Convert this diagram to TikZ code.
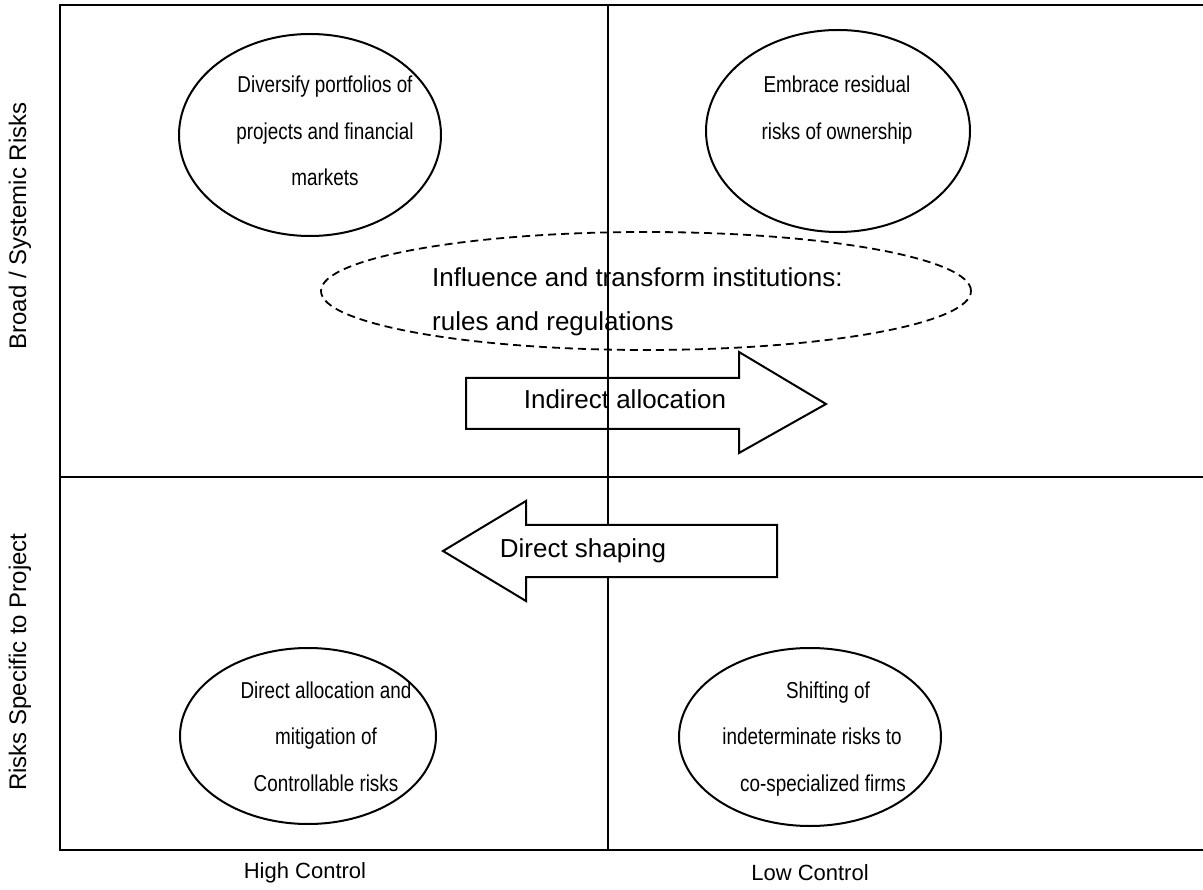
\documentclass[tikz,border=0pt]{standalone}
\usepackage{fontspec}
\setmainfont{Liberation Sans}
\newfontfamily\narrowsans[FakeStretch=0.82]{Liberation Sans}
\usetikzlibrary{shapes.geometric}
\begin{document}
\begin{tikzpicture}[x=1pt,y=-1pt,
  frame/.style={line width=2pt},
  bubble/.style={draw,line width=2pt,ellipse,inner sep=0pt},
  dashbubble/.style={draw,line width=1.8pt,ellipse,inner sep=0pt,dash pattern=on 8pt off 5pt},
  etxt/.style={font=\narrowsans\fontsize{23}{23}\selectfont,inner sep=0pt,anchor=base},
  atxt/.style={font=\fontsize{26}{26}\selectfont,inner sep=0pt,anchor=base},
  ltxt/.style={font=\fontsize{26}{26}\selectfont,inner sep=0pt,anchor=base west},
  yaxis/.style={font=\fontsize{24}{24}\selectfont,inner sep=0pt,rotate=90},
  xaxis/.style={font=\fontsize{22}{22}\selectfont,inner sep=0pt},
  bigarrow/.style={draw,line width=2pt,fill=white,line join=miter}]
\useasboundingbox (0,0) rectangle (1203,890);

% quadrant frame
\coordinate (tl) at (60,5);
\coordinate (tr) at (1203,5);
\coordinate (ml) at (60,477);
\coordinate (mr) at (1203,477);
\coordinate (bl) at (60,850);
\coordinate (br) at (1203,850);
\coordinate (vt) at (608,5);
\coordinate (vb) at (608,850);
\draw[frame] (tr) -- (tl) -- (bl) -- (br);
\draw[frame] (ml) -- (mr);

% strategy ellipses
\node[bubble,minimum width=262pt,minimum height=202pt] (div) at (310,135) {};
\node[bubble,minimum width=264pt,minimum height=202pt] (emb) at (838,131) {};
\node[dashbubble,minimum width=650pt,minimum height=118pt] (inf) at (646,291) {};
\node[bubble,minimum width=256pt,minimum height=176pt] (dir) at (308,736) {};
\node[bubble,minimum width=262pt,minimum height=178pt] (shf) at (810,737) {};

\node[etxt] (d1) at (325,93) {Diversify portfolios of};
\node[etxt] (d2) at (325,140) {projects and financial};
\node[etxt] (d3) at (325,186) {markets};
\node[etxt] (e1) at (837,93) {Embrace residual};
\node[etxt] (e2) at (837,140) {risks of ownership};
\node[ltxt] (i1) at (432,287) {Influence and transform institutions:};
\node[ltxt] (i2) at (432,331) {rules and regulations};
\node[etxt] (a1) at (326,698) {Direct allocation and};
\node[etxt] (a2) at (326,744) {mitigation of};
\node[etxt] (a3) at (326,791) {Controllable risks};
\node[etxt] (s1) at (828,698) {Shifting of};
\node[etxt] (s2) at (812,744) {indeterminate risks to};
\node[etxt] (s3) at (823,791) {co-specialized firms};

% indirect allocation arrow, crossed by the axis line
\draw[bigarrow] (466,378) -- (739,378) -- (739,352) -- (826,404) -- (739,453) -- (739,429) -- (466,429) -- cycle;
\node[atxt] (ia) at (625,409) {Indirect allocation};

\draw[frame] (vt) -- (vb);

% direct shaping arrow, covering the axis line
\draw[bigarrow] (777,525) -- (526,525) -- (526,501) -- (443,551) -- (526,601) -- (526,577) -- (777,577) -- cycle;
\node[atxt] (ds) at (583,558) {Direct shaping};

% axis labels
\node[yaxis] (ya) at (20,226) {Broad / Systemic Risks};
\node[yaxis] (yb) at (20,662) {Risks Specific to Project};
\node[xaxis] (xa) at (305,873) {High Control};
\node[xaxis] (xb) at (810,873) {Low Control};
\end{tikzpicture}
\end{document}
